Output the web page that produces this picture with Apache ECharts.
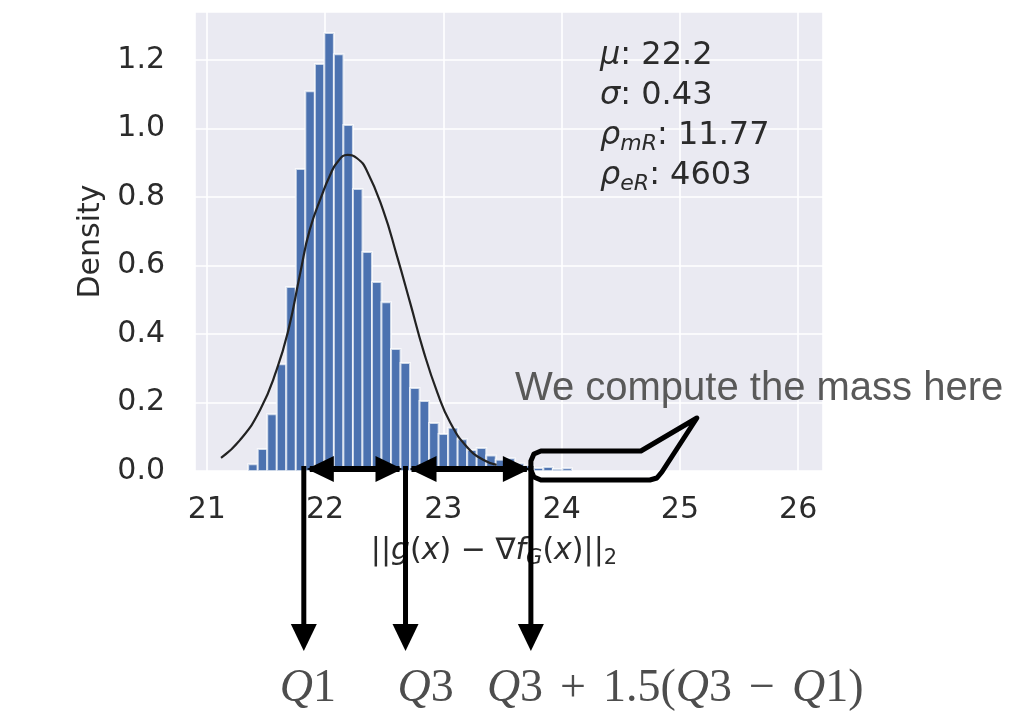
<!DOCTYPE html>
<html>
<head>
<meta charset="utf-8">
<script src="https://cdn.jsdelivr.net/npm/echarts@6/dist/echarts.min.js"></script>
<style>
html, body { margin: 0; padding: 0; background: #fff; }
#main { width: 1009px; height: 720px; }
</style>
</head>
<body>
<div id="main"></div>
<script>
// histogram bins (centres) and density per bin
var binCenters = [21.390, 21.471, 21.551, 21.632, 21.712, 21.793, 21.873, 21.954, 22.034, 22.115,
    22.195, 22.276, 22.356, 22.437, 22.517, 22.598, 22.678, 22.759, 22.839, 22.920,
    23.000, 23.081, 23.161, 23.242, 23.322, 23.403, 23.483, 23.564, 23.644, 23.725,
    23.805, 23.886, 23.966, 24.047];
var binDensity = [0.020, 0.064, 0.166, 0.312, 0.537, 0.882, 1.109, 1.188, 1.279, 1.217,
    1.010, 0.823, 0.639, 0.552, 0.493, 0.356, 0.315, 0.242, 0.204, 0.140,
    0.108, 0.126, 0.093, 0.061, 0.067, 0.045, 0.033, 0.037, 0.022, 0.016,
    0.009, 0.012, 0.006, 0.008];
var binWidth = 0.0805;

// fitted normal curve
var curveX = [21.12, 21.28, 21.45, 21.59, 21.69, 21.79, 21.87, 21.98, 22.04, 22.10, 22.19,
    22.27, 22.35, 22.49, 22.61, 22.72, 22.83, 22.95, 23.06, 23.20, 23.34, 23.45];
var curveY = [0.038, 0.090, 0.178, 0.295, 0.412, 0.578, 0.704, 0.812, 0.862, 0.900, 0.923,
    0.913, 0.879, 0.762, 0.625, 0.490, 0.353, 0.228, 0.140, 0.070, 0.032, 0.018];

// annotation anchors on the x axis
var q1 = 21.82;
var q3 = 22.68;
var upperFence = 23.74;

var statsLines = [
    '{i|μ}{n|: 22.2}',
    '{i|σ}{n|: 0.43}',
    '{i|ρ}{s|mR}{n|: 11.77}',
    '{i|ρ}{s|eR}{n|: 4603}'
];

var textColor = '#2b2b2b';
var dejavu = 'DejaVu Sans';

var chart = echarts.init(document.getElementById('main'));

var option = {
    animation: false,
    grid: {
        left: 195,
        right: 186,
        top: 12,
        bottom: 249,
        show: true,
        backgroundColor: '#eaeaf2',
        borderWidth: 0
    },
    xAxis: {
        type: 'value',
        min: 20.9,
        max: 26.21,
        splitNumber: 5,
        axisLine: { show: false },
        axisTick: { show: false },
        axisLabel: {
            showMinLabel: false,
            showMaxLabel: false,
            fontSize: 30,
            fontFamily: dejavu,
            color: textColor,
            margin: 24
        },
        splitLine: { lineStyle: { color: '#ffffff', width: 1.6 } },
        name: '{n|||}{i|g}{n|(}{i|x}{n|) − ∇}{i|f}{s|G}{n|(}{i|x}{n|)||}{t|2}',
        nameLocation: 'middle',
        nameGap: 62,
        nameTextStyle: {
            padding: [0, 30, 0, 0],
            rich: {
                n: { fontSize: 30, lineHeight: 36, fontFamily: dejavu, color: textColor },
                i: { fontSize: 30, lineHeight: 36, fontFamily: dejavu, fontStyle: 'italic', color: textColor },
                s: { fontSize: 21, lineHeight: 21, fontFamily: dejavu, fontStyle: 'italic', color: textColor, verticalAlign: 'bottom' },
                t: { fontSize: 21, lineHeight: 21, fontFamily: dejavu, color: textColor, verticalAlign: 'bottom' }
            }
        }
    },
    yAxis: {
        type: 'value',
        min: 0,
        max: 1.34,
        interval: 0.2,
        axisLine: { show: false },
        axisTick: { show: false },
        axisLabel: {
            showMaxLabel: false,
            fontSize: 30,
            fontFamily: dejavu,
            color: textColor,
            margin: 30,
            formatter: function (v) { return v.toFixed(1); }
        },
        splitLine: { lineStyle: { color: '#ffffff', width: 1.6 } },
        name: 'Density',
        nameLocation: 'middle',
        nameGap: 89,
        nameTextStyle: { fontSize: 30, fontFamily: dejavu, color: textColor }
    },
    series: [{
        type: 'custom',
        data: binCenters.map(function (c, i) { return [c, binDensity[i]]; }),
        encode: { x: 0, y: 1 },
        renderItem: function (params, api) {
            var c = api.value(0);
            var h = api.value(1);
            var p0 = api.coord([c - binWidth / 2, h]);
            var p1 = api.coord([c + binWidth / 2, 0]);
            return {
                type: 'rect',
                shape: { x: p0[0], y: p0[1], width: p1[0] - p0[0], height: p1[1] - p0[1] },
                style: { fill: '#4c72b0', stroke: 'rgba(255,255,255,0.7)', lineWidth: 2 }
            };
        }
    }, {
        type: 'line',
        data: curveX.map(function (x, i) { return [x, curveY[i]]; }),
        smooth: 0.5,
        symbol: 'none',
        lineStyle: { color: '#222222', width: 2.2 },
        z: 5
    }]
};
chart.setOption(option);

// annotations: quartile arrows, callout, labels
var xq1 = chart.convertToPixel({ xAxisIndex: 0 }, q1);
var xq3 = chart.convertToPixel({ xAxisIndex: 0 }, q3);
var xf = chart.convertToPixel({ xAxisIndex: 0 }, upperFence);
var y0 = chart.convertToPixel({ yAxisIndex: 0 }, 0);
var ay = y0 - 2;

var black = '#000000';
var graphics = [];

function hLine(xa, xb) {
    graphics.push({ type: 'line', z: 100, shape: { x1: xa, y1: ay, x2: xb, y2: ay }, style: { stroke: black, lineWidth: 6 } });
}
function hHead(tip, dir) {
    graphics.push({ type: 'polygon', z: 100, shape: { points: [[tip, ay], [tip + dir * 27, ay - 13], [tip + dir * 27, ay + 13]] }, style: { fill: black } });
}
function vArrow(x) {
    graphics.push({ type: 'line', z: 100, shape: { x1: x, y1: ay - 3, x2: x, y2: 628 }, style: { stroke: black, lineWidth: 5 } });
    graphics.push({ type: 'polygon', z: 100, shape: { points: [[x - 13, 624], [x + 13, 624], [x, 651]] }, style: { fill: black } });
}

hLine(xq1 + 6, xq3 - 6);
hHead(xq1 + 3, 1);
hHead(xq3 - 3, -1);
hLine(xq3 + 6, xf - 4);
hHead(xq3 + 4, 1);
hHead(xf - 1, -1);
vArrow(xq1);
vArrow(xq3);
vArrow(xf);

// callout box with pointer
var bt = y0 - 20, bb = y0 + 9;
graphics.push({
    type: 'polygon', z: 100,
    shape: {
        points: [
            [xf, bt + 10], [xf + 3, bt + 3], [xf + 10, bt],
            [xf + 110, bt], [xf + 166, y0 - 53],
            [xf + 131, bb - 8], [xf + 126, bb - 2], [xf + 119, bb],
            [xf + 10, bb], [xf + 3, bb - 3], [xf, bb - 10]
        ]
    },
    style: { fill: 'none', stroke: black, lineWidth: 5, lineJoin: 'round' }
});

graphics.push({
    type: 'text', z: 100, x: xf - 16, y: 389,
    style: { text: 'We compute the mass here', fontSize: 40, fontFamily: 'Liberation Sans', fill: '#595959', verticalAlign: 'middle' }
});

var serifRich = {
    q: { fontSize: 46, fontFamily: 'Liberation Serif', fontStyle: 'italic', fill: '#4d4d4d' },
    d: { fontSize: 46, fontFamily: 'Liberation Serif', fill: '#4d4d4d' },
    g: { fontSize: 46, fontFamily: 'Liberation Serif', width: 17 }
};
graphics.push({ type: 'text', z: 100, x: xq1 - 24, y: 689, style: { text: '{q|Q}{d|1}', rich: serifRich, verticalAlign: 'middle' } });
graphics.push({ type: 'text', z: 100, x: xq3 - 8, y: 689, style: { text: '{q|Q}{d|3}', rich: serifRich, verticalAlign: 'middle' } });
graphics.push({
    type: 'text', z: 100, x: xf - 44, y: 689,
    style: { text: '{q|Q}{d|3}{g| }{d|+}{g| }{d|1.5(}{q|Q}{d|3}{g| }{d|−}{g| }{q|Q}{d|1)}', rich: serifRich, verticalAlign: 'middle' }
});

var statRich = {
    i: { fontSize: 32, lineHeight: 38, fontFamily: dejavu, fontStyle: 'italic', fill: textColor },
    n: { fontSize: 32, lineHeight: 38, fontFamily: dejavu, fill: textColor },
    s: { fontSize: 22, lineHeight: 22, fontFamily: dejavu, fontStyle: 'italic', fill: textColor, verticalAlign: 'bottom' }
};
statsLines.forEach(function (t, i) {
    graphics.push({ type: 'text', z: 100, x: 600, y: 56 + i * 40, style: { text: t, rich: statRich, verticalAlign: 'middle' } });
});

chart.setOption({ graphic: graphics });
</script>
</body>
</html>
